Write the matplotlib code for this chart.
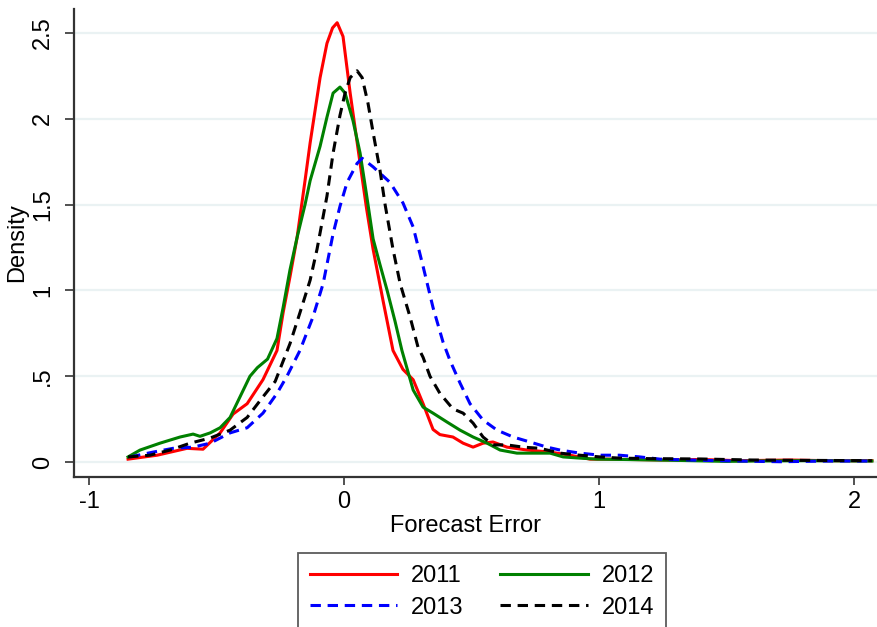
import matplotlib
matplotlib.use("Agg")
import matplotlib.pyplot as plt

plt.rcParams['font.family'] = ['Liberation Sans', 'DejaVu Sans']

# density curves (forecast error vs density)
x_2011 = [-0.847, -0.733, -0.616, -0.553, -0.486, -0.435, -0.38, -0.318, -0.263, -0.239,
          -0.212, -0.184, -0.153, -0.133, -0.094, -0.067, -0.045, -0.027, -0.004, 0.024,
          0.063, 0.088, 0.114, 0.153, 0.192, 0.231, 0.271, 0.31, 0.349, 0.376,
          0.427, 0.467, 0.506, 0.545, 0.584, 0.639, 0.718, 0.808, 0.886, 0.965,
          1.04, 1.25, 1.4, 1.55, 1.75, 1.9, 2.07]
y_2011 = [0.017, 0.04, 0.08, 0.075, 0.17, 0.28, 0.34, 0.48, 0.65, 0.87,
          1.08, 1.31, 1.64, 1.86, 2.24, 2.44, 2.53, 2.56, 2.48, 2.15,
          1.74, 1.48, 1.24, 0.94, 0.65, 0.54, 0.48, 0.34, 0.19, 0.16,
          0.146, 0.11, 0.087, 0.11, 0.117, 0.087, 0.07, 0.058, 0.04, 0.017,
          0.017, 0.012, 0.015, 0.008, 0.012, 0.008, 0.008]

x_2012 = [-0.847, -0.8, -0.722, -0.643, -0.592, -0.565, -0.525, -0.486, -0.447, -0.408,
          -0.369, -0.34, -0.3, -0.263, -0.239, -0.212, -0.184, -0.153, -0.133, -0.094,
          -0.067, -0.043, -0.016, 0.004, 0.035, 0.063, 0.088, 0.114, 0.141, 0.169,
          0.2, 0.227, 0.25, 0.271, 0.31, 0.349, 0.404, 0.455, 0.506, 0.561,
          0.612, 0.678, 0.741, 0.808, 0.859, 0.925, 0.992, 1.1, 1.3, 1.5,
          1.6, 1.8, 2.07]
y_2012 = [0.03, 0.07, 0.11, 0.146, 0.163, 0.15, 0.17, 0.2, 0.26, 0.38,
          0.5, 0.55, 0.6, 0.72, 0.9, 1.12, 1.31, 1.5, 1.64, 1.84,
          2.01, 2.15, 2.185, 2.15, 1.99, 1.8, 1.56, 1.3, 1.15, 1.0,
          0.82, 0.65, 0.53, 0.42, 0.32, 0.285, 0.233, 0.186, 0.146, 0.11,
          0.07, 0.052, 0.052, 0.052, 0.03, 0.023, 0.017, 0.015, 0.01, 0.004,
          0.006, 0.008, 0.006]

x_2013 = [-0.839, -0.749, -0.671, -0.592, -0.525, -0.447, -0.38, -0.318, -0.263, -0.224,
          -0.173, -0.122, -0.082, -0.043, -0.016, 0.012, 0.051, 0.071, 0.114, 0.18,
          0.231, 0.271, 0.31, 0.349, 0.388, 0.416, 0.455, 0.494, 0.545, 0.6,
          0.663, 0.729, 0.796, 0.847, 0.925, 1.004, 1.08, 1.16, 1.24, 1.4,
          1.55, 1.71, 1.9, 2.07]
y_2013 = [0.03, 0.058, 0.08, 0.087, 0.11, 0.17, 0.2, 0.285, 0.4, 0.5,
          0.65, 0.845, 1.04, 1.33, 1.49, 1.63, 1.74, 1.77, 1.72, 1.63,
          1.51, 1.37, 1.14, 0.9, 0.7, 0.59, 0.46, 0.34, 0.245, 0.186,
          0.146, 0.117, 0.087, 0.07, 0.052, 0.04, 0.04, 0.03, 0.017, 0.01,
          0.006, 0.002, 0.006, 0.006]

x_2014 = [-0.847, -0.761, -0.682, -0.604, -0.525, -0.447, -0.38, -0.318, -0.27, -0.212,
          -0.173, -0.133, -0.106, -0.067, -0.043, -0.016, 0.004, 0.024, 0.051, 0.071,
          0.094, 0.114, 0.141, 0.161, 0.192, 0.22, 0.259, 0.29, 0.31, 0.337,
          0.376, 0.427, 0.467, 0.506, 0.545, 0.584, 0.639, 0.702, 0.769, 0.847,
          0.925, 1.004, 1.08, 1.2, 1.4, 1.6, 1.8, 2.07]
y_2014 = [0.03, 0.04, 0.07, 0.11, 0.14, 0.186, 0.26, 0.38, 0.47, 0.69,
          0.87, 1.06, 1.24, 1.55, 1.8, 2.02, 2.15, 2.24, 2.28, 2.24,
          2.09, 1.92, 1.7, 1.5, 1.24, 1.04, 0.845, 0.67, 0.61, 0.5,
          0.4, 0.31, 0.285, 0.227, 0.146, 0.1, 0.1, 0.087, 0.08, 0.052,
          0.04, 0.03, 0.023, 0.02, 0.018, 0.012, 0.01, 0.008]

y_ticks = [0, 0.5, 1, 1.5, 2, 2.5]
y_tick_labels = ['0', '.5', '1', '1.5', '2', '2.5']
x_ticks = [-1, 0, 1, 2]
x_tick_labels = ['-1', '0', '1', '2']

fig = plt.figure(figsize=(8.77, 6.27), dpi=100)
ax = fig.add_axes([74 / 877, 150 / 627, 803 / 877, 468 / 627])

lw = 2.2
dash = (0, (3.4, 2.2))
l11, = ax.plot(x_2011, y_2011, color='#ff0000', lw=lw, label='2011', zorder=3)
l12, = ax.plot(x_2012, y_2012, color='#008000', lw=lw, label='2012', zorder=3)
l13, = ax.plot(x_2013, y_2013, color='#0000ff', lw=lw, ls=dash, label='2013', zorder=3)
l14, = ax.plot(x_2014, y_2014, color='black', lw=lw, ls=dash, label='2014', zorder=3)

ax.set_xlim(-1.059, 2.09)
ax.set_ylim(-0.087, 2.64)

# stata style light grid
for yt in y_ticks:
    ax.axhline(yt, color='#eaf2f3', lw=1.6, zorder=1)

fs = 17
ax.set_yticks(y_ticks)
ax.set_yticklabels(y_tick_labels, rotation=90, va='center')
ax.set_xticks(x_ticks)
ax.set_xticklabels(x_tick_labels)
ax.tick_params(axis='y', length=6.5, width=1.2, pad=8, labelsize=fs, color='#333333')
ax.tick_params(axis='x', length=6, width=1.2, pad=4, labelsize=fs, color='#333333')

for s in ['top', 'right']:
    ax.spines[s].set_visible(False)
for s in ['left', 'bottom']:
    ax.spines[s].set_linewidth(1.6)
    ax.spines[s].set_color('#333333')

ax.set_ylabel('Density', fontsize=fs)
ax.yaxis.set_label_coords(-0.057, 0.5)
ax.set_xlabel('Forecast Error', fontsize=fs)
ax.xaxis.set_label_coords(0.488, -0.082)

# row-major order like the reference: 2011 2012 / 2013 2014
leg = fig.legend([l11, l13, l12, l14], ['2011', '2013', '2012', '2014'],
                 loc='upper left', bbox_to_anchor=(298 / 877, 1 - 553 / 627),
                 ncol=2, fontsize=fs, frameon=True, fancybox=False,
                 handlelength=3.7, handletextpad=0.6, columnspacing=1.55,
                 labelspacing=0.42, borderpad=0.5, borderaxespad=0)
leg.get_frame().set_edgecolor('#333333')
leg.get_frame().set_linewidth(1.3)

fig.savefig('out.png', dpi=100)
